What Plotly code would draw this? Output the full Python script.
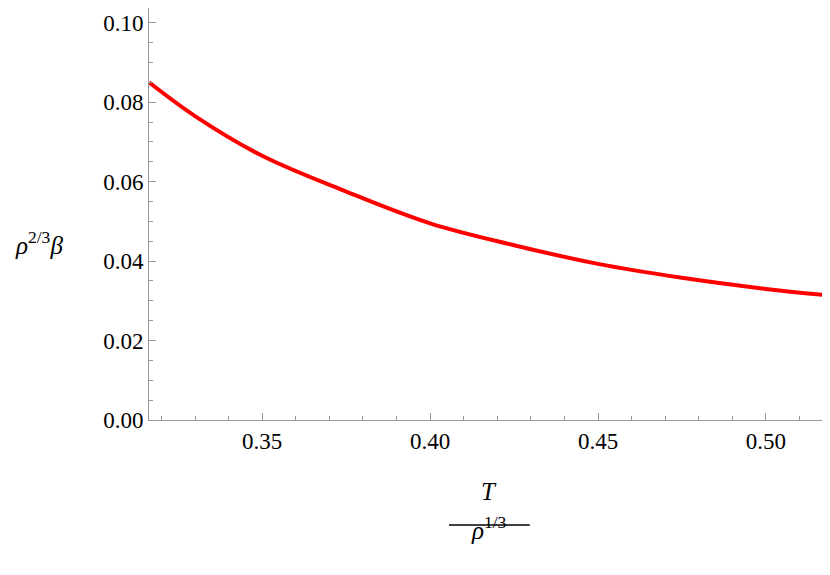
import plotly.graph_objects as go

x_vals = [0.3163, 0.33, 0.35, 0.375, 0.40, 0.425, 0.45, 0.475, 0.50, 0.517]
y_vals = [0.085, 0.0765, 0.0665, 0.0575, 0.0495, 0.0440, 0.0393, 0.0358, 0.0330, 0.0315]
x_ticks = [0.35, 0.40, 0.45, 0.50]
y_ticks = [0.00, 0.02, 0.04, 0.06, 0.08, 0.10]

SERIF = "Liberation Serif, Times New Roman, DejaVu Serif, serif"
fig = go.Figure(go.Scatter(x=x_vals, y=y_vals, mode="lines", line=dict(color="#ff0000", width=4, shape="spline")))
font = dict(family=SERIF, size=23, color="black")
ax = dict(showgrid=False, zeroline=False, showline=True, linecolor="#999", mirror=True,
          ticks="inside", ticklen=7, tickcolor="#999", tickfont=font)
fig.update_xaxes(range=[0.3163, 0.517], tickvals=x_ticks, ticktext=[f"{v:.2f}" for v in x_ticks],
                 minor=dict(ticks="inside", ticklen=4, dtick=0.01, tickcolor="#999"), **ax)
fig.update_yaxes(range=[0, 0.1037], tickvals=y_ticks, ticktext=[f"{v:.2f}" for v in y_ticks],
                 minor=dict(ticks="inside", ticklen=4, dtick=0.005, tickcolor="#999"), **ax)
fig.update_layout(width=830, height=575, margin=dict(l=141, r=15, t=0, b=163),
                  plot_bgcolor="white", paper_bgcolor="white", showlegend=False,
                  font=dict(family=SERIF, color="black"))
fig.add_annotation(xref="paper", yref="paper", x=-0.125, y=0.43, xanchor="right", showarrow=False,
                   text="<i>ρ</i><sup>2/3</sup><i>β</i>", font=dict(family=SERIF, size=25, color="black"))
fig.add_annotation(xref="paper", yref="paper", x=0.505, y=-0.21, showarrow=False,
                   text="<i>T</i>", font=dict(family=SERIF, size=25, color="black"))
fig.add_annotation(xref="paper", yref="paper", x=0.505, y=-0.305, showarrow=False,
                   text="<i>ρ</i><sup>1/3</sup>", font=dict(family=SERIF, size=25, color="black"))
fig.add_shape(type="line", xref="paper", yref="paper", x0=0.445, x1=0.565, y0=-0.255, y1=-0.255,
              line=dict(color="black", width=1.5))
fig.write_html("out.html")
